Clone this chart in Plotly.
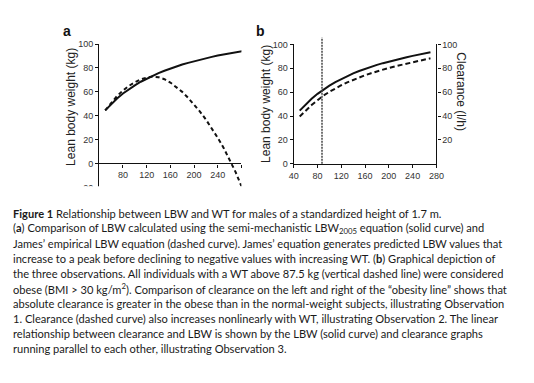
import plotly.graph_objects as go

# ---------------- data ----------------
wt_a = [50, 60, 70, 80, 90, 100, 110, 120, 130, 140, 150, 160, 170, 180, 190, 200,
        210, 220, 230, 240, 250, 260, 270, 280, 286]
lbw2005_a = [44.5, 49.8, 54.5, 58.6, 62.3, 65.5, 68.5, 71.1, 73.5, 75.7, 77.7, 79.6, 81.3,
             82.9, 84.3, 85.7, 87.0, 88.2, 89.3, 90.4, 91.4, 92.3, 93.2, 94.0, 94.5]
james_a = [44.5, 51.0, 56.5, 61.2, 65.0, 68.0, 70.4, 72.0, 72.8, 72.3, 70.6, 67.8, 64.2,
           60.0, 55.0, 49.5, 43.5, 36.8, 29.5, 21.5, 13.0, 3.5, -7.0, -19.0, -26.0]

wt_b = [50, 60, 70, 80, 87.5, 90, 100, 110, 120, 130, 140, 150, 160, 170, 180, 190, 200,
        210, 220, 230, 240, 250, 260, 270]
lbw_b = [44.5, 49.8, 54.5, 58.6, 61.4, 62.3, 65.5, 68.5, 71.1, 73.5, 75.7, 77.7, 79.6,
         81.3, 82.9, 84.3, 85.7, 87.0, 88.2, 89.3, 90.4, 91.4, 92.3, 93.4]
clearance_b = [39.6, 44.5, 49.2, 53.3, 56.3, 57.1, 60.3, 63.2, 65.8, 68.2, 70.4, 72.4, 74.2,
               75.9, 77.5, 78.9, 80.3, 81.6, 82.8, 83.9, 85.0, 86.1, 87.2, 88.4]
obesity_wt = 87.5

x_ticks_a = [80, 120, 160, 200, 240, 280]
x_ticktext_a = ["80", "120", "160", "200", "240", " "]
y_ticks_a = [-20, 0, 20, 40, 60, 80, 100]
x_ticks_b = [40, 80, 120, 160, 200, 240, 280]
y_ticks_b = [0, 20, 40, 60, 80, 100]
y_ticks_b_right = [20, 40, 60, 80, 100]

caption_lines = [
    "<b>Figure 1</b> Relationship between LBW and WT for males of a standardized height of 1.7 m.",
    "(<b>a</b>) Comparison of LBW calculated using the semi-mechanistic LBW<sub>2005</sub> equation (solid curve) and",
    "James’ empirical LBW equation (dashed curve). James’ equation generates predicted LBW values that",
    "increase to a peak before declining to negative values with increasing WT. (<b>b</b>) Graphical depiction of",
    "the three observations. All individuals with a WT above 87.5 kg (vertical dashed line) were considered",
    "obese (BMI > 30 kg/m<sup>2</sup>). Comparison of clearance on the left and right of the “obesity line” shows that",
    "absolute clearance is greater in the obese than in the normal-weight subjects, illustrating Observation",
    "1. Clearance (dashed curve) also increases nonlinearly with WT, illustrating Observation 2. The linear",
    "relationship between clearance and LBW is shown by the LBW (solid curve) and clearance graphs",
    "running parallel to each other, illustrating Observation 3.",
]

# ---------------- layout helpers ----------------
# the page body has an 8px margin, so the figure is drawn 8px in from the window corner
OFF = 8
W, H = 534 - 2 * OFF, 383 - 2 * OFF
def px(x):
    return (x - OFF) / W
def py(y):
    return 1 - (y - OFF) / H

A_LEFT, A_RIGHT = 96.5, 242.3
A_TOP, A_ZERO = 40.0, 162.7
unit_a = (A_ZERO - A_TOP) / 100.0
A_YMIN = -25
A_BOTTOM = A_ZERO - A_YMIN * unit_a

B_LEFT, B_RIGHT = 296.0, 442.3
B_TOP, B_BOTTOM = 40.3, 163.0

tick_font = dict(family="Liberation Sans, Arial", size=9, color="#333333")
INK = "#111111"

fig = go.Figure()

fig.add_trace(go.Scatter(x=wt_a, y=lbw2005_a, mode="lines", xaxis="x", yaxis="y",
                         line=dict(color=INK, width=2), showlegend=False))
fig.add_trace(go.Scatter(x=wt_a, y=james_a, mode="lines", xaxis="x", yaxis="y",
                         line=dict(color=INK, width=2, dash="4px,3px"), showlegend=False))
fig.add_trace(go.Scatter(x=wt_b, y=lbw_b, mode="lines", xaxis="x2", yaxis="y2",
                         line=dict(color=INK, width=2), showlegend=False))
fig.add_trace(go.Scatter(x=wt_b, y=clearance_b, mode="lines", xaxis="x2", yaxis="y3",
                         line=dict(color=INK, width=2, dash="5px,3px"), showlegend=False))

axis_common = dict(showgrid=False, zeroline=False, showline=True, linecolor="#111111",
                   linewidth=1.3, ticks="outside", ticklen=3, tickwidth=1.2,
                   tickcolor="#111111", tickfont=tick_font, fixedrange=True)

fig.update_layout(
    width=W, height=H,
    margin=dict(l=0, r=0, t=0, b=0),
    paper_bgcolor="white", plot_bgcolor="rgba(0,0,0,0)",
    xaxis=dict(domain=[px(A_LEFT), px(A_RIGHT)], range=[40, 280], anchor="free",
               position=py(A_ZERO), tickvals=x_ticks_a, ticktext=x_ticktext_a,
               **axis_common),
    yaxis=dict(domain=[py(A_BOTTOM), py(A_TOP)], range=[A_YMIN, 100], anchor="x",
               tickvals=y_ticks_a, **axis_common),
    xaxis2=dict(domain=[px(B_LEFT), px(B_RIGHT)], range=[40, 280], anchor="y2",
                tickvals=x_ticks_b, **axis_common),
    yaxis2=dict(domain=[py(B_BOTTOM), py(B_TOP)], range=[0, 100], anchor="x2",
                tickvals=y_ticks_b, **axis_common),
    yaxis3=dict(range=[0, 100], overlaying="y2", anchor="x2", side="right",
                tickvals=y_ticks_b_right, **axis_common),
)

# obesity line (vertical dotted)
fig.add_shape(type="line", xref="x2", yref="paper", x0=obesity_wt, x1=obesity_wt,
              y0=py(B_BOTTOM), y1=py(33.3), line=dict(color="#444444", width=1.5, dash="2px,1px"),
              layer="above")

# crop the bottom of panel a like the original image
fig.add_shape(type="rect", xref="paper", yref="paper", x0=0, x1=px(270),
              y0=py(205), y1=py(186.2), fillcolor="white", line=dict(width=0), layer="above")

title_font = dict(family="Liberation Sans, Arial", size=12, color="#222222")
fig.add_annotation(x=px(68), y=py(104), xref="paper", yref="paper", text="Lean body weight (kg)",
                   textangle=-90, showarrow=False, font=title_font, xanchor="center", yanchor="middle")
fig.add_annotation(x=px(268), y=py(101), xref="paper", yref="paper", text="Lean body weight (kg)",
                   textangle=-90, showarrow=False, font=title_font, xanchor="center", yanchor="middle")
fig.add_annotation(x=px(468), y=py(89), xref="paper", yref="paper", text="Clearance (l/h)",
                   textangle=90, showarrow=False, font=title_font, xanchor="center", yanchor="middle")

letter_font = dict(family="Liberation Sans, Arial", size=14, color="#111111")
fig.add_annotation(x=px(63), y=py(27), xref="paper", yref="paper", text="<b>a</b>",
                   showarrow=False, font=letter_font, xanchor="center", yanchor="middle")
fig.add_annotation(x=px(262), y=py(27), xref="paper", yref="paper", text="<b>b</b>",
                   showarrow=False, font=letter_font, xanchor="center", yanchor="middle")

cap_font = dict(family="Lato", size=11.1, color="#1a1a1a")
cap_y0, cap_dy = 214.3, 15.45
for i, line in enumerate(caption_lines):
    fig.add_annotation(x=px(5.5), y=py(cap_y0 + i * cap_dy), xref="paper", yref="paper",
                       text=line, showarrow=False, font=cap_font, xanchor="left",
                       yanchor="middle", align="left")

fig.write_html("out.html")
